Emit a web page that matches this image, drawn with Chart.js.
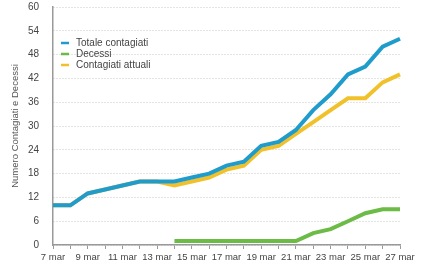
<!DOCTYPE html>
<html>
<head>
<meta charset="utf-8">
<script src="https://cdn.jsdelivr.net/npm/chart.js@4/dist/chart.umd.min.js"></script>
<style>
  html, body { margin: 0; padding: 0; background: #fff; }
  #wrap { position: relative; width: 440px; height: 264px; }
</style>
</head>
<body>
<div id="wrap"><canvas id="chart" width="440" height="264"></canvas></div>
<script>
// dati
const giorni = ['7 mar', '8 mar', '9 mar', '10 mar', '11 mar', '12 mar', '13 mar', '14 mar',
  '15 mar', '16 mar', '17 mar', '18 mar', '19 mar', '20 mar', '21 mar', '22 mar',
  '23 mar', '24 mar', '25 mar', '26 mar', '27 mar'];
const totaleContagiati = [10, 10, 13, 14, 15, 16, 16, 16, 17, 18, 20, 21, 25, 26, 29, 34, 38, 43, 45, 50, 52];
const decessi = [null, null, null, null, null, null, null, 1, 1, 1, 1, 1, 1, 1, 1, 3, 4, 6, 8, 9, 9];
const contagiatiAttuali = [10, 10, 13, 14, 15, 16, 16, 15, 16, 17, 19, 20, 24, 25, 28, 31, 34, 37, 37, 41, 43];
const yTicks = [0, 6, 12, 18, 24, 30, 36, 42, 48, 54, 60];

const BLU = '#1f9ccc';
const VERDE = '#6cbb46';
const GIALLO = '#f1c12c';
const FONT = "'Liberation Sans', Arial, sans-serif";

// legenda disegnata dentro l'area del grafico
const legendaInterna = {
  id: 'legendaInterna',
  afterDraw(chart) {
    const ctx = chart.ctx;
    const voci = chart.data.datasets.map(d => ({ label: d.label, color: d.borderColor }));
    const x0 = chart.chartArea.left + 8;
    const righe = [43, 54, 65];
    ctx.save();
    ctx.font = '10px ' + FONT;
    ctx.textBaseline = 'middle';
    voci.forEach((v, i) => {
      ctx.strokeStyle = v.color;
      ctx.lineWidth = 2.5;
      ctx.beginPath();
      ctx.moveTo(x0, righe[i]);
      ctx.lineTo(x0 + 8, righe[i]);
      ctx.stroke();
      ctx.fillStyle = '#444';
      ctx.fillText(v.label, x0 + 15, righe[i] + 0.5);
    });
    ctx.restore();
  }
};

new Chart(document.getElementById('chart'), {
  type: 'line',
  data: {
    labels: giorni,
    datasets: [
      { label: 'Totale contagiati', data: totaleContagiati, borderColor: BLU },
      { label: 'Decessi', data: decessi, borderColor: VERDE },
      { label: 'Contagiati attuali', data: contagiatiAttuali, borderColor: GIALLO }
    ]
  },
  options: {
    responsive: false,
    animation: false,
    spanGaps: false,
    elements: {
      line: { borderWidth: 4, tension: 0, fill: false },
      point: { radius: 0, hoverRadius: 0 }
    },
    layout: { padding: { top: 7, right: 40, left: 0, bottom: 0 } },
    plugins: { legend: { display: false }, tooltip: { enabled: false } },
    scales: {
      x: {
        offset: false,
        grid: { display: true, drawOnChartArea: false, drawTicks: true, tickLength: 4, color: '#999' },
        border: { display: true, color: '#999', width: 1.5 },
        ticks: {
          autoSkip: false, maxRotation: 0, padding: 3, color: '#444',
          font: { family: FONT, size: 9.5 },
          callback: (v, i) => (i % 2 === 0 ? giorni[i] : '')
        },
        afterFit: s => { s.height = 19; }
      },
      y: {
        min: 0, max: 60,
        afterBuildTicks: s => { s.ticks = yTicks.map(v => ({ value: v })); },
        grid: { color: '#c8c8c8', lineWidth: 1, drawTicks: false },
        border: { display: true, color: '#999', width: 1.5, dash: [1, 2] },
        ticks: { padding: 14, color: '#444', font: { family: FONT, size: 10 } },
        title: {
          display: true, text: 'Numero Contagiati e Decessi', color: '#555',
          font: { family: FONT, size: 9.5 }, padding: { top: 10, bottom: 0 }
        },
        afterFit: s => { s.width = 53; s.paddingTop = 6; s.paddingBottom = 0; }
      }
    }
  },
  plugins: [legendaInterna]
});
</script>
</body>
</html>
